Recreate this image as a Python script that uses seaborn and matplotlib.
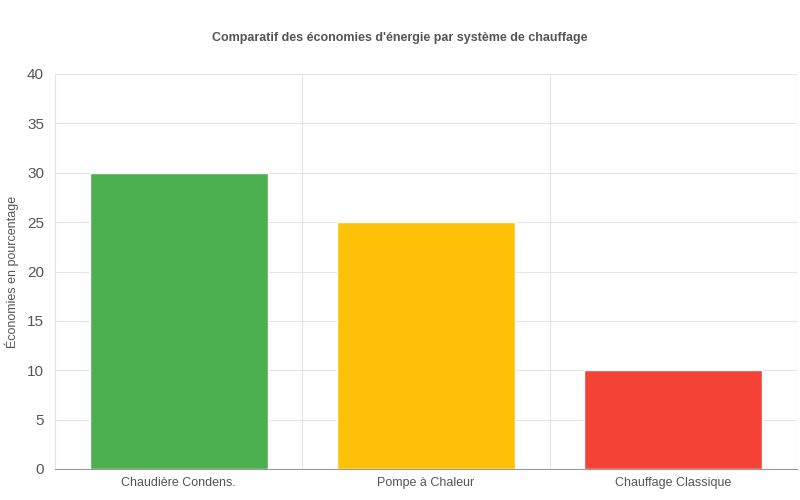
import matplotlib
matplotlib.use("Agg")
import matplotlib.pyplot as plt
import seaborn as sns
import pandas as pd

systemes = ["Chaudière Condens.", "Pompe à Chaleur", "Chauffage Classique"]
economies = [30, 25, 10]
couleurs = ["#4CAF50", "#FFC107", "#F44336"]

sns.set_style("white")
plt.rcParams['font.family'] = ['Liberation Sans', 'DejaVu Sans']

df = pd.DataFrame({"systeme": systemes, "economie": economies})

fig = plt.figure(figsize=(8, 5), dpi=100)
ax = fig.add_axes([0.069, 0.062, 0.927, 0.79])
sns.barplot(data=df, x="systeme", y="economie", hue="systeme", palette=couleurs,
            width=0.72, saturation=1, legend=False, ax=ax)

ax.set_xlim(-0.5, len(systemes) - 0.5)
ax.set_ylim(0, 40)
ax.set_yticks(range(0, 41, 5))
ax.set_axisbelow(True)
ax.yaxis.grid(True, color="#e5e5e5", linewidth=0.8)
for b in [0.5, 1.5, 2.5]:
    ax.axvline(b, color="#e5e5e5", linewidth=0.8, zorder=0)

ax.set_xticks([-0.5, 0.5, 1.5, 2.5], minor=True)
ax.tick_params(axis="x", which="minor", length=8, color="#999999")
ax.tick_params(axis="x", which="major", length=0, labelsize=9, labelcolor="#555555", pad=6)
ax.tick_params(axis="y", length=0, labelsize=11, labelcolor="#555555", pad=8)

for s in ["top", "right"]:
    ax.spines[s].set_visible(False)
ax.spines["left"].set_color("#e5e5e5")
ax.spines["bottom"].set_color("#999999")

ax.set_xlabel("")
ax.set_ylabel("Économies en pourcentage", fontsize=9, color="#555555", labelpad=6)
fig.suptitle("Comparatif des économies d'énergie par système de chauffage",
             x=0.5, y=0.935, fontsize=9, fontweight="bold", color="#555555")

fig.savefig("out.png", dpi=100)
